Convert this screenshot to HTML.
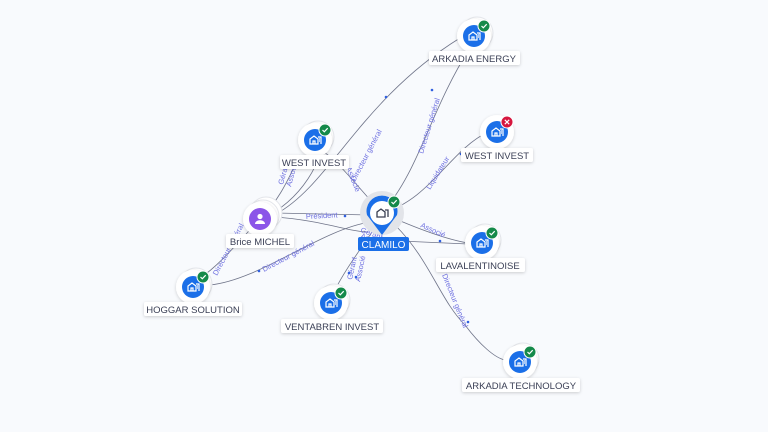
<!DOCTYPE html>
<html><head><meta charset="utf-8"><style>
html,body{margin:0;padding:0;background:#f8fafd;}
svg{display:block;font-family:"Liberation Sans",sans-serif;}
</style></head><body>
<svg width="768" height="432" viewBox="0 0 768 432" xmlns="http://www.w3.org/2000/svg">
<defs>
<filter id="sh" x="-50%" y="-50%" width="200%" height="200%"><feDropShadow dx="0" dy="1" stdDeviation="1.5" flood-color="#000" flood-opacity="0.18"/></filter>
<g id="bld"><path d="M-5,4 V-1 L-1,-4 L3,-1 V4 Z M-2,4 V1 H0 V4 M3,-3 H6 V4 M4,-1 H5 M4,1 H5" fill="none" stroke="#fff" stroke-width="1.2"/></g>
<g id="ok"><circle r="6" fill="#158a4a" stroke="#fff" stroke-width="1"/><path d="M-2.5,0 L-0.7,1.8 L2.7,-1.8" fill="none" stroke="#fff" stroke-width="1.2"/></g>
</defs>
<rect width="768" height="432" fill="#f8fafd"/>
<g fill="none" stroke="#6f7489" stroke-width="0.8">
<path d="M276,214 C330,185 360,100 460,38"/>
<path d="M382,213 C420,170 430,110 470,48"/>
<path d="M382,213 C430,200 450,150 488,132"/>
<path d="M260,219 C300,205 330,150 315,145"/>
<path d="M382,213 C360,190 330,150 318,150"/>
<path d="M275,213 L370,215"/>
<path d="M275,217 C320,220 350,232 368,232"/>
<path d="M210,285 C260,280 320,230 370,222"/>
<path d="M382,213 C420,230 450,240 468,243"/>
<path d="M400,241 L468,244"/>
<path d="M395,225 C430,260 440,300 465,325 C480,345 495,358 505,360"/>
<path d="M335,290 C345,270 360,250 372,232"/>
<path d="M260,219 C240,240 220,265 200,278"/>
<path d="M260,219 C280,200 290,175 300,155"/>
</g>
<g fill="#6d6fe0" font-size="7.5">
<text transform="translate(355,182) rotate(-62)">Directeur général</text>
<text transform="translate(423,154) rotate(-73)">Directeur général</text>
<text transform="translate(430,190) rotate(-58)">Liquidateur</text>
<text transform="translate(346,168) rotate(68)">Associé</text>
<text transform="translate(306,219) rotate(-3)">Président</text>
<text transform="translate(264,272) rotate(-28)">Directeur général</text>
<text transform="translate(420,227) rotate(24)">Associé</text>
<text transform="translate(442,275) rotate(68)">Directeur général</text>
<text transform="translate(352,280) rotate(-78)">Gérant</text>
<text transform="translate(360,282) rotate(-78)">Associé</text>
<text transform="translate(360,232) rotate(20)">Gérant</text>
<text transform="translate(360,238) rotate(20)">Associé</text>
<text transform="translate(217,276) rotate(-62)">Directeur général</text>
<text transform="translate(283,185) rotate(-75)">Gérant</text>
<text transform="translate(291,187) rotate(-75)">Associé</text>
</g>
<g fill="#3060e0">
<circle cx="386" cy="97" r="1.3"/><circle cx="432" cy="90" r="1.3"/><circle cx="461" cy="154" r="1.3"/>
<circle cx="345" cy="216" r="1.3"/><circle cx="259" cy="271" r="1.3"/><circle cx="440" cy="241" r="1.3"/>
<circle cx="468" cy="322" r="1.3"/><circle cx="349" cy="273" r="1.3"/><circle cx="356" cy="277" r="1.3"/>
</g>
<g>
<g transform="translate(474,36)"><circle cx="3" cy="-3" r="16" fill="#fff" stroke="#e3e5ea"/><circle r="17" fill="#fff" filter="url(#sh)"/><circle r="11" fill="#1b6fe8"/><use href="#bld"/><use href="#ok" x="10" y="-10"/></g>
<g transform="translate(315,140)"><circle cx="3" cy="-3" r="16" fill="#fff" stroke="#e3e5ea"/><circle r="17" fill="#fff" filter="url(#sh)"/><circle r="11" fill="#1b6fe8"/><use href="#bld"/><use href="#ok" x="10" y="-10"/></g>
<g transform="translate(497,132)"><circle r="17" fill="#fff" filter="url(#sh)"/><circle r="11" fill="#1b6fe8"/><use href="#bld"/><circle cx="10" cy="-10" r="6" fill="#d6163f" stroke="#fff"/><path d="M7.8,-12.2 L12.2,-7.8 M12.2,-12.2 L7.8,-7.8" stroke="#fff" stroke-width="1.2"/></g>
<g transform="translate(482,243)"><circle cx="3" cy="-3" r="16" fill="#fff" stroke="#e3e5ea"/><circle r="17" fill="#fff" filter="url(#sh)"/><circle r="11" fill="#1b6fe8"/><use href="#bld"/><use href="#ok" x="10" y="-10"/></g>
<g transform="translate(193,287)"><circle cx="3" cy="-3" r="16" fill="#fff" stroke="#e3e5ea"/><circle r="17" fill="#fff" filter="url(#sh)"/><circle r="11" fill="#1b6fe8"/><use href="#bld"/><use href="#ok" x="10" y="-10"/></g>
<g transform="translate(331,303)"><circle cx="3" cy="-3" r="16" fill="#fff" stroke="#e3e5ea"/><circle r="17" fill="#fff" filter="url(#sh)"/><circle r="11" fill="#1b6fe8"/><use href="#bld"/><use href="#ok" x="10" y="-10"/></g>
<g transform="translate(520,362)"><circle cx="3" cy="-3" r="16" fill="#fff" stroke="#e3e5ea"/><circle r="17" fill="#fff" filter="url(#sh)"/><circle r="11" fill="#1b6fe8"/><use href="#bld"/><use href="#ok" x="10" y="-10"/></g>
<g transform="translate(260,219)"><circle cx="6" cy="-6" r="16" fill="#fff" stroke="#e3e5ea"/><circle cx="3" cy="-3" r="16" fill="#fff" stroke="#e3e5ea"/><circle r="17" fill="#fff" filter="url(#sh)"/><circle r="11" fill="#8b55e8"/><circle cy="-2.5" r="2.6" fill="#fff"/><path d="M-5,5 C-5,0 5,0 5,5 Z" fill="#fff"/></g>
<g transform="translate(382,213)"><circle r="22" fill="#e2e4e9"/><path d="M-15,2 A15.5,15.5 0 1 1 15,2 L0,22 Z" fill="#1b6fe8"/><circle r="12" fill="#fff"/><path d="M-5,4 V-1 L-1,-4 L3,-1 V4 Z M3,-3 H6 V4" fill="none" stroke="#3a3f52" stroke-width="1.3"/><use href="#ok" x="12" y="-11"/></g>
</g>
<g font-size="9.5" fill="#3a3f55" text-anchor="middle">
<g filter="url(#sh)" fill="#fff">
<rect x="429" y="51" width="91" height="14" rx="2"/>
<rect x="280" y="155" width="69" height="14" rx="2"/>
<rect x="461" y="148" width="72" height="14" rx="2"/>
<rect x="226" y="234" width="68" height="14" rx="2"/>
<rect x="436" y="258" width="89" height="14" rx="2"/>
<rect x="144" y="302" width="98" height="14" rx="2"/>
<rect x="281" y="319" width="102" height="14" rx="2"/>
<rect x="462" y="378" width="118" height="14" rx="2"/>
</g>
<text x="474" y="62">ARKADIA ENERGY</text>
<text x="314" y="166">WEST INVEST</text>
<text x="497" y="159">WEST INVEST</text>
<text x="260" y="245">Brice MICHEL</text>
<text x="480" y="269">LAVALENTINOISE</text>
<text x="193" y="313">HOGGAR SOLUTION</text>
<text x="332" y="330">VENTABREN INVEST</text>
<text x="521" y="389">ARKADIA TECHNOLOGY</text>
<rect x="358" y="237" width="51" height="14" rx="2" fill="#1b6fe8"/>
<text x="383.5" y="248" fill="#fff" font-size="10">CLAMILO</text>
</g>
</svg>
</body></html>
